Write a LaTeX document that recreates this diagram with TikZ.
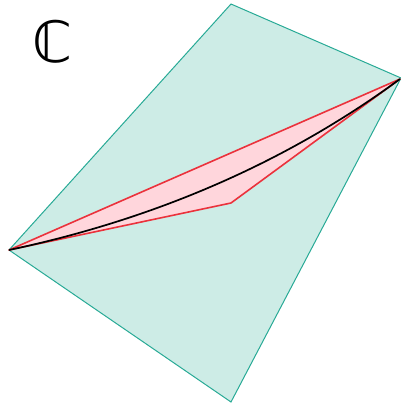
\documentclass[tikz,border=0pt]{standalone}
\usepackage{fontspec}
\usetikzlibrary{calc}
\newfontfamily\symfont{DejaVu Sans}
\definecolor{tealfill}{RGB}{205,236,230}
\definecolor{tealline}{RGB}{40,170,150}
\definecolor{redline}{RGB}{235,50,60}
\definecolor{pinkfill}{RGB}{255,214,220}
\tikzset{
  region/.style={fill=tealfill, draw=tealline, line width=1pt, line join=miter},
  tri/.style={fill=pinkfill, draw=redline, line width=1.6pt, line join=round},
  path/.style={draw=black, line width=1.7pt}
}
\begin{document}
\begin{tikzpicture}[x=1pt,y=-1pt]
\useasboundingbox (0,0) rectangle (400,405);
\coordinate (T) at (231,4);
\coordinate (R) at (401,78);
\coordinate (B) at (231,402);
\coordinate (L) at (9,250);
\coordinate (M) at (231,203);
\coordinate (E) at (400,79);
\draw[region] (T) -- (R) -- (B) -- (L) -- cycle;
\draw[tri] (L) -- (E) -- (M) -- cycle;
\draw[path] (L) .. controls ($(L)!2/3!(M)$) and ($(E)!2/3!(M)$) .. (E);
\node[font=\symfont\fontsize{57}{57}\selectfont, inner sep=0pt] (lab) at (52,42) {ℂ};
\end{tikzpicture}
\end{document}
